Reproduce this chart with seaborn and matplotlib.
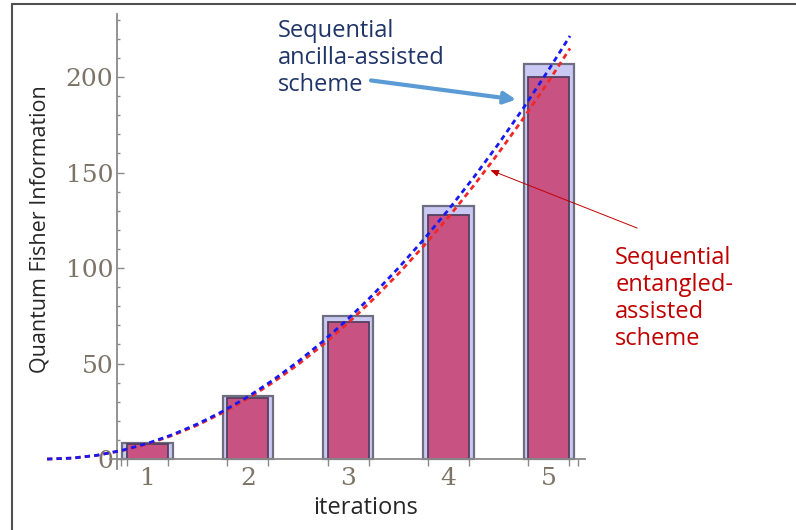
import numpy as np
import pandas as pd
import matplotlib
matplotlib.use('Agg')
import matplotlib.pyplot as plt
from matplotlib.lines import Line2D
from matplotlib.ticker import MultipleLocator, FixedLocator
import seaborn as sns

# bar heights
iterations = [1, 2, 3, 4, 5]
qfi_ancilla = [8.3, 33.0, 74.8, 132.3, 206.8]
qfi_entangled = [8.0, 31.8, 72.0, 128.0, 200.0]

# dashed curves
curve_x = [0, 0.25, 0.5, 0.75, 1, 1.25, 1.5, 1.75, 2, 2.25, 2.5, 2.75,
           3, 3.25, 3.5, 3.75, 4, 4.25, 4.5, 4.75, 5, 5.21]
curve_ancilla = [0, 0.5, 2.0, 4.6, 8.2, 12.8, 18.4, 25.0, 32.6, 41.3, 51.0, 61.7,
                 73.4, 86.2, 100.0, 114.8, 130.6, 147.4, 165.2, 184.1, 204.0, 221.5]
curve_entangled = [0, 0.5, 2.0, 4.5, 7.9, 12.4, 17.8, 24.3, 31.7, 40.1, 49.5, 59.9,
                   71.3, 83.7, 97.0, 111.4, 126.7, 143.1, 160.4, 178.7, 198.0, 215.0]

sns.set_style('white')
plt.rcParams['font.family'] = ['Open Sans', 'DejaVu Sans']

fig = plt.figure(figsize=(7.96, 5.30), dpi=100)
ax = fig.add_axes([0.0503, 0.1158, 0.691, 0.8578])

bars = pd.DataFrame({'it': iterations, 'anc': qfi_ancilla, 'ent': qfi_entangled})
sns.barplot(data=bars, x='it', y='anc', native_scale=True, width=0.5,
            color='#c9c9f4', edgecolor='#6e6e80', linewidth=1.6, saturation=1, ax=ax)
sns.barplot(data=bars, x='it', y='ent', native_scale=True, width=0.41,
            color='#c85282', edgecolor='#54405e', linewidth=1.3, saturation=1, ax=ax)

sns.lineplot(x=curve_x, y=curve_entangled, color='#f02828', linewidth=2.0, ax=ax)
ax.lines[-1].set_dashes([1.9, 1.5])
ax.lines[-1].set_zorder(5)
sns.lineplot(x=curve_x, y=curve_ancilla, color='#1818f0', linewidth=2.0, ax=ax)
ax.lines[-1].set_dashes([1.9, 1.5])
ax.lines[-1].set_zorder(6)

ax.set_xlim(-0.07, 5.41)
ax.set_ylim(-5, 233)

# Mathematica-like axes
for s in ['top', 'right']:
    ax.spines[s].set_visible(False)
ax.spines['left'].set_position(('data', 0.70))
ax.spines['bottom'].set_position(('data', 0))
ax.spines['bottom'].set_bounds(0.63, 5.36)
for s in ['left', 'bottom']:
    ax.spines[s].set_color('#8a8a8a')
    ax.spines[s].set_linewidth(1.3)

ax.yaxis.set_major_locator(MultipleLocator(50))
ax.yaxis.set_minor_locator(MultipleLocator(10))
ax.tick_params(axis='y', which='both', left=True)
ax.tick_params(axis='x', which='both', bottom=True)
ax.tick_params(axis='y', which='major', direction='in', length=5, width=1, color='#8a8a8a',
               labelsize=18, labelcolor='#7d7468', pad=3)
ax.tick_params(axis='y', which='minor', direction='in', length=2.5, width=1, color='#8a8a8a')
for lab in ax.get_yticklabels():
    lab.set_family('DejaVu Serif')

ax.set_xticks(iterations)
ax.set_xticklabels([str(i) for i in iterations], family='DejaVu Serif')
edges = [0.74] + [v for i in iterations for v in (i - 0.205, i + 0.205)] + [5.29]
ax.xaxis.set_minor_locator(FixedLocator(edges))
ax.tick_params(axis='x', which='major', length=0, labelsize=18, labelcolor='#7d7468', pad=6)
ax.tick_params(axis='x', which='minor', direction='out', length=5, width=1, color='#8a8a8a')

ax.set_xlabel('')
ax.set_ylabel('')
fig.text(0.0503 + (366 - 40) / 796, 1 - 508 / 530, 'iterations', fontsize=17,
         ha='center', va='center')
fig.text(40 / 796, 1 - 229 / 530, 'Quantum Fisher Information', fontsize=15.5,
         rotation=90, ha='center', va='center')

# annotations
ax.text(2.30, 230.5, 'Sequential\nancilla-assisted\nscheme', color='#1f3468',
        fontsize=17, ha='left', va='top', linespacing=1.17)
ax.annotate('', xy=(4.70, 188), xytext=(3.20, 198.4),
            arrowprops=dict(arrowstyle='-|>,head_length=0.7,head_width=0.35',
                            color='#5b9bd5', lw=3))
ax.text(5.66, 111.5, 'Sequential\nentangled-\nassisted\nscheme', color='#c00000',
        fontsize=17, ha='left', va='top', linespacing=1.17, clip_on=False)
ax.annotate('', xy=(4.39, 151.8), xytext=(5.905, 120.4), annotation_clip=False,
            arrowprops=dict(arrowstyle='-|>,head_length=0.5,head_width=0.2',
                            color='#c00000', lw=0.7))

# outer frame of the screenshot
fig.add_artist(Line2D([0.015, 1], [0.9925, 0.9925], color='#505050', lw=1.5))
fig.add_artist(Line2D([0.015, 0.015], [0, 0.9925], color='#505050', lw=1.5))

fig.savefig('out.png', dpi=100)
